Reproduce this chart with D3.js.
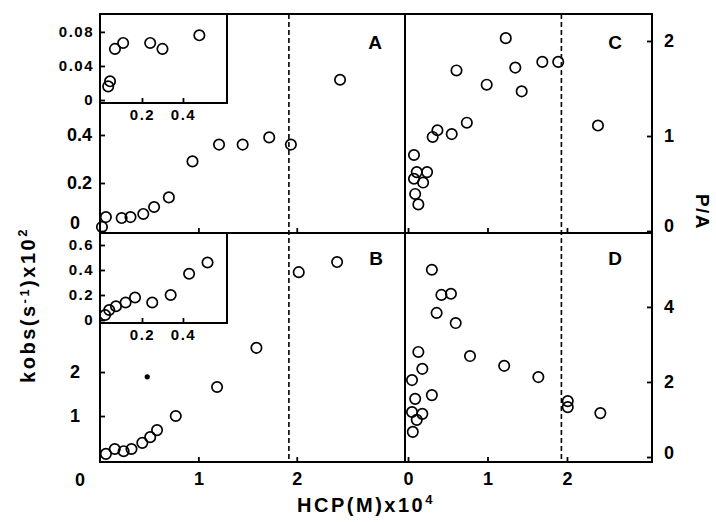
<!DOCTYPE html>
<html>
<head>
<meta charset="utf-8">
<script src="https://cdn.jsdelivr.net/npm/d3@7"></script>
<style>
  body { margin: 0; background: #fff; }
  svg { display: block; }
  text { font-family: "Liberation Sans", Arial, sans-serif; fill: #000; font-weight: bold; }
</style>
</head>
<body>
<div id="container"></div>
<script>
// panel A: kobs x 10^2 vs HCP x 10^4
let aX = [0.02, 0.06, 0.22, 0.31, 0.44, 0.55, 0.70, 0.94, 1.21, 1.45, 1.72, 1.94, 2.44];
let aY = [0.017, 0.058, 0.054, 0.058, 0.071, 0.10, 0.14, 0.29, 0.36, 0.36, 0.39, 0.36, 0.63];
// inset of A
let aInX = [0.035, 0.044, 0.068, 0.108, 0.24, 0.30, 0.48];
let aInY = [0.016, 0.022, 0.060, 0.067, 0.067, 0.060, 0.076];

// panel B
let bX = [0.06, 0.15, 0.24, 0.32, 0.43, 0.51, 0.58, 0.77, 1.19, 1.59, 2.02, 2.41];
let bY = [0.14, 0.25, 0.20, 0.25, 0.39, 0.52, 0.68, 1.0, 1.66, 2.55, 4.27, 4.5];
let bStar = [0.48, 1.89];
// inset of B
let bInX = [0.02, 0.04, 0.073, 0.12, 0.166, 0.25, 0.34, 0.43, 0.52];
let bInY = [0.04, 0.08, 0.11, 0.14, 0.18, 0.14, 0.20, 0.37, 0.46];

// panel C: P/A
let cX = [0.075, 0.11, 0.24, 0.075, 0.19, 0.09, 0.13, 0.31, 0.37, 0.55, 0.74, 0.61, 0.99, 1.23, 1.35, 1.43, 1.69, 1.89, 2.39];
let cY = [0.80, 0.62, 0.62, 0.55, 0.51, 0.39, 0.28, 0.99, 1.06, 1.02, 1.14, 1.69, 1.54, 2.03, 1.72, 1.47, 1.78, 1.78, 1.11];

// panel D: P/A
let dX = [0.30, 0.42, 0.54, 0.36, 0.60, 0.13, 0.78, 0.18, 1.21, 0.05, 1.64, 0.09, 0.30, 0.05, 0.18, 0.11, 0.06, 2.01, 2.01, 2.42];
let dY = [4.99, 4.32, 4.35, 3.84, 3.57, 2.80, 2.69, 2.35, 2.43, 2.05, 2.13, 1.55, 1.65, 1.20, 1.15, 0.99, 0.67, 1.49, 1.33, 1.17];

// dashed limits
let limitLeft = 1.92;
let limitRight = 1.93;

let xTicksLeft = [1, 2];
let xTicksRight = [0, 1, 2];
let yTicksA = [0, 0.2, 0.4];
let yTicksB = [1, 2];
let yTicksC = [0, 1, 2];
let yTicksD = [0, 2, 4];
let inXTicks = [0.2, 0.4];
let inYTicksA = [0, 0.04, 0.08];
let inYTicksB = [0, 0.2, 0.4, 0.6];

let width = 716, height = 522;
let L = 100, M = 405, R = 652, T = 14, H = 233, B = 462;
let inR = 227, inBA = 103, inBB = 323;

function zip(xs, ys) {
  return xs.map((x, i) => [x, ys[i]]);
}

function main() {
  let svg = d3.select("#container").append("svg")
    .attr("width", width).attr("height", height);

  // scales
  let xL = d3.scaleLinear().domain([0, 3.1]).range([L, M]);
  let xR = d3.scaleLinear().domain([-0.038, 3.07]).range([M, R]);
  let yA = d3.scaleLinear().domain([-0.0083, 0.904]).range([H, T]);
  let yB = d3.scaleLinear().domain([-0.045, 5.16]).range([B, H]);
  let yC = d3.scaleLinear().domain([-0.021, 2.284]).range([H, T]);
  let yD = d3.scaleLinear().domain([-0.133, 5.97]).range([B, H]);
  let xIn = d3.scaleLinear().domain([-0.005, 0.615]).range([L, inR]);
  let yInA = d3.scaleLinear().domain([-0.0035, 0.101]).range([inBA, T]);
  let yInB = d3.scaleLinear().domain([-0.024, 0.696]).range([inBB, H]);

  // dashed lines
  svg.append("line")
    .attr("x1", xL(limitLeft)).attr("x2", xL(limitLeft))
    .attr("y1", T).attr("y2", B)
    .attr("stroke", "#000").attr("stroke-width", 1.6)
    .attr("stroke-dasharray", "5,3");
  svg.append("line")
    .attr("x1", xR(limitRight)).attr("x2", xR(limitRight))
    .attr("y1", T).attr("y2", B)
    .attr("stroke", "#000").attr("stroke-width", 1.6)
    .attr("stroke-dasharray", "5,3");

  // white under the insets
  svg.append("rect").attr("x", L).attr("y", T).attr("width", inR - L).attr("height", inBA - T).attr("fill", "#fff");
  svg.append("rect").attr("x", L).attr("y", H).attr("width", inR - L).attr("height", inBB - H).attr("fill", "#fff");

  // axes helper: ticks inward, no domain line
  function axis(gen, tx, ty, size, pad, fs, ls) {
    let g = svg.append("g").attr("transform", `translate(${tx},${ty})`)
      .call(gen.tickSizeInner(size).tickSizeOuter(0).tickPadding(pad));
    g.select(".domain").remove();
    g.selectAll(".tick line").attr("stroke", "#000").attr("stroke-width", 1.8);
    g.selectAll("text").attr("font-size", fs).attr("letter-spacing", ls || 0)
      .attr("font-family", "'Liberation Sans', Arial, sans-serif")
      .attr("font-weight", "bold").attr("fill", "#000");
    return g;
  }
  let fmt = (d) => d === 0 ? "0" : String(d);

  let gA = axis(d3.axisLeft(yA).tickValues(yTicksA).tickFormat(fmt), L, 0, -5, 8, 18);
  gA.selectAll("text").filter((d) => d === 0).attr("dy", "-0.15em").attr("x", -20);
  axis(d3.axisLeft(yB).tickValues(yTicksB).tickFormat(fmt), L, 0, -5, 20, 18);
  let gC = axis(d3.axisRight(yC).tickValues(yTicksC).tickFormat(fmt), R, 0, -5, 12, 18);
  gC.selectAll("text").filter((d) => d === 0).attr("dy", "0.05em");
  let gD = axis(d3.axisRight(yD).tickValues(yTicksD).tickFormat(fmt), R, 0, -5, 12, 18);
  gD.selectAll("text").filter((d) => d === 0).attr("dy", "0.1em");

  // x ticks on both rows, labels only at the bottom
  axis(d3.axisBottom(xL).tickValues(xTicksLeft).tickFormat(""), 0, H, -5, 0, 18);
  axis(d3.axisBottom(xR).tickValues(xTicksRight).tickFormat(""), 0, H, -5, 0, 18);
  axis(d3.axisBottom(xL).tickValues(xTicksLeft).tickFormat(fmt), 0, B, -5, 10, 18);
  axis(d3.axisBottom(xR).tickValues(xTicksRight).tickFormat(fmt), 0, B, -5, 10, 18);
  svg.append("text").attr("x", L - 20).attr("y", B + 24).attr("text-anchor", "middle")
    .attr("font-size", 18).text("0");

  // inset axes
  axis(d3.axisLeft(yInA).tickValues(inYTicksA).tickFormat(fmt), L, 0, -5, 6, 15, 1.5);
  axis(d3.axisBottom(xIn).tickValues(inXTicks).tickFormat(fmt), 0, inBA, -5, 6, 15, 1.5);
  axis(d3.axisLeft(yInB).tickValues(inYTicksB).tickFormat(fmt), L, 0, -5, 6, 15, 1.5);
  axis(d3.axisBottom(xIn).tickValues(inXTicks).tickFormat(fmt), 0, inBB, -5, 6, 15, 1.5);

  // frames
  let frame = svg.append("g").attr("fill", "none").attr("stroke", "#000").attr("stroke-width", 2);
  frame.append("rect").attr("x", L).attr("y", T).attr("width", R - L).attr("height", B - T);
  frame.append("line").attr("x1", M).attr("x2", M).attr("y1", T).attr("y2", B);
  frame.append("line").attr("x1", L).attr("x2", R).attr("y1", H).attr("y2", H);
  frame.append("path").attr("d", `M${inR},${T}V${inBA}H${L}`);
  frame.append("path").attr("d", `M${inR},${H}V${inBB}H${L}`);

  // points
  function dots(pts, sx, sy) {
    svg.append("g").selectAll("circle").data(pts).join("circle")
      .attr("cx", (d) => sx(d[0])).attr("cy", (d) => sy(d[1]))
      .attr("r", 5.2).attr("fill", "none")
      .attr("stroke", "#000").attr("stroke-width", 1.7);
  }
  dots(zip(aX, aY), xL, yA);
  dots(zip(aInX, aInY), xIn, yInA);
  dots(zip(bX, bY), xL, yB);
  dots(zip(bInX, bInY), xIn, yInB);
  dots(zip(cX, cY), xR, yC);
  dots(zip(dX, dY), xR, yD);
  svg.append("circle").attr("cx", xL(bStar[0])).attr("cy", yB(bStar[1]))
    .attr("r", 2.6).attr("fill", "#000");

  // panel letters
  let letters = [["A", 375, 49], ["B", 376, 265], ["C", 615, 49], ["D", 615, 265]];
  svg.selectAll(".letter").data(letters).join("text")
    .attr("class", "letter")
    .attr("x", (d) => d[1]).attr("y", (d) => d[2])
    .attr("text-anchor", "middle").attr("font-size", 19)
    .text((d) => d[0]);

  // axis titles
  let yt = svg.append("text")
    .attr("transform", "translate(35,305) rotate(-90)")
    .attr("text-anchor", "middle").attr("font-size", 20).attr("letter-spacing", 2.5);
  yt.append("tspan").text("kobs(s");
  yt.append("tspan").attr("font-size", 13).attr("dy", -6).text("-1");
  yt.append("tspan").attr("dy", 6).text(")x10");
  yt.append("tspan").attr("font-size", 13).attr("dy", -8).text("2");

  svg.append("text")
    .attr("transform", "translate(696,212) rotate(90)")
    .attr("text-anchor", "middle").attr("font-size", 19).attr("letter-spacing", 1.5)
    .text("P/A");

  let xt = svg.append("text")
    .attr("x", 366).attr("y", 512)
    .attr("text-anchor", "middle").attr("font-size", 20).attr("letter-spacing", 2.5);
  xt.append("tspan").text("HCP(M)x10");
  xt.append("tspan").attr("font-size", 13).attr("dy", -8).text("4");
}

main();
</script>
</body>
</html>
